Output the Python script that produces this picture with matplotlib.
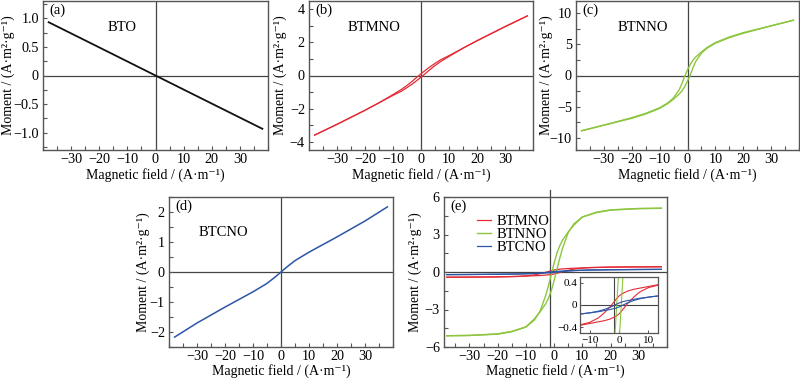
import matplotlib
matplotlib.use('Agg')
import matplotlib.pyplot as plt
from matplotlib.ticker import MultipleLocator

plt.rcParams['font.family'] = ['Liberation Serif', 'DejaVu Serif']
plt.rcParams['axes.unicode_minus'] = True

# ---- data ----
# (a) BTO
H_bto = [-38, -20, 0, 20, 38]
M_bto = [0.93, 0.49, 0.0, -0.49, -0.93]

# field grid for loops in (b), (c) and green curve in (e)
H_loop = [-38, -30, -20, -15, -10, -7, -5, -3, -2, -1, 0, 1, 2, 3, 5, 7, 10, 15, 20, 30, 38]

# (b) BTMNO
btmno_down = [-3.60, -2.95, -2.10, -1.65, -1.15, -0.84, -0.60, -0.33, -0.18, -0.04, 0.10,
              0.24, 0.37, 0.50, 0.73, 0.95, 1.20, 1.65, 2.10, 2.95, 3.60]
btmno_up = [-3.60, -2.95, -2.10, -1.65, -1.20, -0.95, -0.73, -0.50, -0.37, -0.24, -0.10,
            0.04, 0.18, 0.33, 0.60, 0.84, 1.15, 1.65, 2.10, 2.95, 3.60]

# (c) BTNNO
btnno_down = [-8.9, -8.0, -6.8, -6.1, -5.2, -4.4, -3.6, -2.3, -1.3, -0.1, 0.9,
              1.8, 2.5, 3.0, 3.8, 4.5, 5.3, 6.2, 6.9, 8.0, 8.9]
btnno_up = [-8.9, -8.0, -6.9, -6.2, -5.3, -4.5, -3.8, -3.0, -2.5, -1.8, -0.9,
            0.1, 1.3, 2.3, 3.6, 4.4, 5.2, 6.1, 6.8, 8.0, 8.9]

# (d) BTCNO
H_d = [-38, -30, -20, -10, -5, -2, 0, 2, 5, 10, 20, 30, 38]
M_d = [-2.17, -1.70, -1.17, -0.66, -0.38, -0.16, 0.0, 0.16, 0.38, 0.66, 1.17, 1.70, 2.17]

# (e) comparison
green_down = [-5.10, -5.07, -4.95, -4.75, -4.40, -3.85, -3.15, -1.90, -1.10, -0.20, 0.70,
              1.50, 2.10, 2.55, 3.20, 3.75, 4.40, 4.78, 4.97, 5.08, 5.10]
green_up = [-5.10, -5.08, -4.97, -4.78, -4.40, -3.75, -3.20, -2.55, -2.10, -1.50, -0.70,
            0.20, 1.10, 1.90, 3.15, 3.85, 4.40, 4.75, 4.95, 5.07, 5.10]

H_e = [-38, -30, -20, -13, -10, -7, -5, -3, -1, 0, 1, 3, 5, 7, 10, 13, 20, 30, 38]
red_down = [-0.42, -0.41, -0.39, -0.35, -0.31, -0.23, -0.14, -0.03, 0.10, 0.16,
            0.20, 0.25, 0.28, 0.30, 0.33, 0.36, 0.39, 0.41, 0.42]
red_up = [-0.42, -0.41, -0.39, -0.36, -0.33, -0.30, -0.28, -0.25, -0.20, -0.16,
          -0.10, 0.03, 0.14, 0.23, 0.31, 0.35, 0.39, 0.41, 0.42]
blue_down = [-0.21, -0.20, -0.18, -0.16, -0.14, -0.11, -0.08, -0.04, 0.01, 0.035,
             0.055, 0.08, 0.10, 0.12, 0.14, 0.16, 0.18, 0.20, 0.21]
blue_up = [-0.21, -0.20, -0.18, -0.16, -0.14, -0.12, -0.10, -0.08, -0.055, -0.035,
           -0.01, 0.04, 0.08, 0.11, 0.14, 0.16, 0.18, 0.20, 0.21]

RED = '#e42b36'
GREEN = '#8cc63f'
BLUE = '#2b55a6'
FRAME = '#555555'

xlabel = 'Magnetic field / (A·m⁻¹)'
ylabel = 'Moment / (A·m²·g⁻¹)'

fig = plt.figure(figsize=(8, 3.8), dpi=100)


def rect(l, t, r, b):
    return [l / 800, 1 - b / 380, (r - l) / 800, (b - t) / 380]


def style(ax, ylim, ymajor, yminor, label, ylab_x, xlab_y=-0.118, xlim=(-40, 40)):
    ax.set_xlim(*xlim)
    ax.set_ylim(*ylim)
    ax.xaxis.set_major_locator(MultipleLocator(10))
    ax.xaxis.set_minor_locator(MultipleLocator(5))
    ax.yaxis.set_major_locator(MultipleLocator(ymajor))
    ax.yaxis.set_minor_locator(MultipleLocator(yminor))
    ax.tick_params(which='both', direction='in', length=3, width=0.8,
                   color=FRAME, labelsize=10.2, pad=3)
    ax.tick_params(axis='x', pad=2.5)
    ax.set_xticks([-30, -20, -10, 0, 10, 20, 30])
    for s in ax.spines.values():
        s.set_color(FRAME)
        s.set_linewidth(1.0)
    ax.axhline(0, color='#444444', lw=0.9, zorder=1)
    ax.set_xlabel(xlabel, fontsize=10)
    ax.set_ylabel(ylabel, fontsize=10)
    ax.xaxis.set_label_coords(0.5, xlab_y)
    ax.yaxis.set_label_coords(ylab_x, 0.5)
    ax.text(0.03, 0.94, label, transform=ax.transAxes, ha='left', va='center', fontsize=10.5)


def name(ax, x, y, s):
    ax.text(x, y, s, transform=ax.transAxes, ha='center', va='center', fontsize=10.5)


# (a)
ax = fig.add_axes(rect(43, 1, 268, 150))
style(ax, (-1.3, 1.3), 0.5, 0.25, '(a)', -0.125)
ax.axvline(0, color='#444444', lw=0.9, zorder=1)
ax.set_yticks([-1.0, -0.5, 0, 0.5, 1.0])
ax.set_yticklabels(['−1.0', '−0.5', '0', '0.5', '1.0'])
ax.plot(H_bto, M_bto, color='#111111', lw=1.3)
name(ax, 0.35, 0.82, 'BTO')

# (b)
ax = fig.add_axes(rect(309, 1, 533, 150))
style(ax, (-4.5, 4.5), 2, 1, '(b)', -0.1)
ax.axvline(0, color='#444444', lw=0.9, zorder=1)
ax.plot(H_loop, btmno_down, color=RED, lw=0.9)
ax.plot(H_loop, btmno_up, color=RED, lw=0.9)
name(ax, 0.29, 0.82, 'BTMNO')

# (c)
ax = fig.add_axes(rect(576, 1, 799, 150))
style(ax, (-12, 12), 5, 2.5, '(c)', -0.103)
ax.axvline(0, color='#444444', lw=0.9, zorder=1)
ax.plot(H_loop, btnno_down, color=GREEN, lw=1.0)
ax.plot(H_loop, btnno_up, color=GREEN, lw=1.0)
name(ax, 0.30, 0.82, 'BTNNO')

# (d)
ax = fig.add_axes(rect(169, 197, 393, 347))
style(ax, (-2.5, 2.5), 1, 0.5, '(d)', -0.087, xlab_y=-0.112)
ax.axvline(0, color='#444444', lw=0.9, zorder=1)
ax.plot(H_d, M_d, color=BLUE, lw=1.1)
name(ax, 0.245, 0.76, 'BTCNO')

# (e)
ax = fig.add_axes(rect(444, 197, 667, 347))
style(ax, (-6, 6), 3, 1.5, '(e)', -0.1, xlab_y=-0.112, xlim=(-39, 40))
ax.axvline(-1.5, ymin=0, ymax=1.045, color='#444444', lw=0.9, zorder=1, clip_on=False)
ax.plot(H_e, red_down, color=RED, lw=0.9, label='BTMNO')
ax.plot(H_e, red_up, color=RED, lw=0.9)
ax.plot(H_loop, green_down, color=GREEN, lw=1.0, label='BTNNO')
ax.plot(H_loop, green_up, color=GREEN, lw=1.0)
ax.plot(H_e, blue_down, color=BLUE, lw=0.9, label='BTCNO')
ax.plot(H_e, blue_up, color=BLUE, lw=0.9)
ax.legend(loc='upper left', bbox_to_anchor=(0.12, 0.92), frameon=False, fontsize=10.5,
          handlelength=1.0, handletextpad=0.4, labelspacing=0.0, borderaxespad=0)

# inset in (e)
ins = fig.add_axes(rect(580, 277, 658, 333))
ins.set_xlim(-13.3, 13.3)
ins.set_ylim(-0.5, 0.5)
ins.set_xticks([-10, 0, 10])
ins.set_yticks([-0.4, 0, 0.4])
ins.set_yticklabels(['−0.4', '0', '0.4'])
ins.tick_params(direction='in', length=2.5, width=0.7, color=FRAME, labelsize=8, pad=2)
for s in ins.spines.values():
    s.set_color(FRAME)
    s.set_linewidth(0.9)
ins.axhline(0, color='#444444', lw=0.8, zorder=1)
ins.axvline(-1.7, color='#444444', lw=0.8, zorder=1)
ins.plot(H_e, red_down, color=RED, lw=0.8)
ins.plot(H_e, red_up, color=RED, lw=0.8)
ins.plot(H_loop, green_down, color=GREEN, lw=0.8)
ins.plot(H_loop, green_up, color=GREEN, lw=0.8)
ins.plot(H_e, blue_down, color=BLUE, lw=0.8)
ins.plot(H_e, blue_up, color=BLUE, lw=0.8)

fig.savefig('out.png', dpi=100)
